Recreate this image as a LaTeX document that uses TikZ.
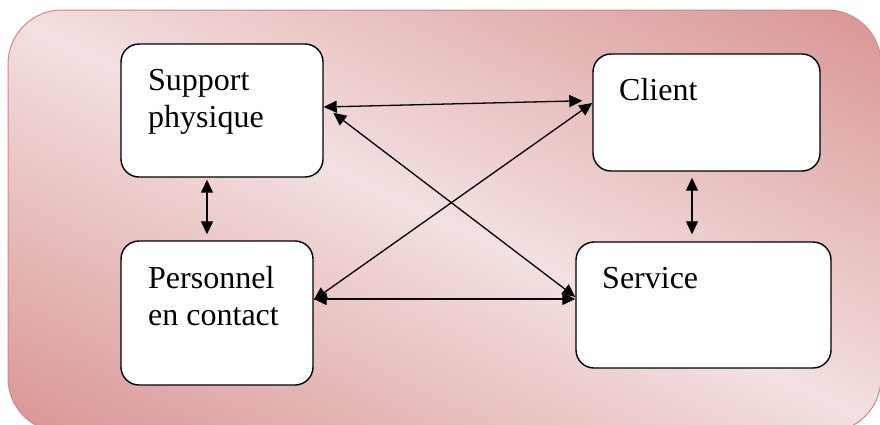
\documentclass[tikz,border=0pt]{standalone}
\usepackage{fontspec}
\setmainfont{Liberation Serif}
\newfontfamily\boxfont{Liberation Serif}
\usetikzlibrary{arrows.meta,calc}

\definecolor{panelDark}{HTML}{D89191}
\definecolor{panelLight}{HTML}{F3E0E0}
\definecolor{panelEdge}{HTML}{D08686}

\tikzset{
  block/.style={draw=black, line width=1.4pt, fill=white, rounded corners=18pt,
                inner sep=0pt},
  boxtext/.style={anchor=base west, inner sep=0pt,
                  font=\boxfont\fontsize{32}{37.5}\selectfont},
  link/.style={line width=1.3pt, {Triangle[length=13pt,width=12pt]}-{Triangle[length=13pt,width=12pt]}}
}

\newcommand{\twolines}[2]{\begin{tabular}[t]{@{}l@{}}#1\\#2\end{tabular}}

\begin{document}
\begin{tikzpicture}[x=1pt, y=-1pt]
  \useasboundingbox (0,0) rectangle (880,424);
  \clip (0,0) rectangle (880,424);

  % shaded rounded panel: light band along the main diagonal
  \begin{scope}
    \clip[rounded corners=54pt] (8,10) rectangle (881,432);
    \begin{scope}[transform canvas={rotate around={-25:(444,221)}}]
      \shade[top color=panelDark, bottom color=panelDark, middle color=panelLight]
        (-200,-170) rectangle (1100,612);
    \end{scope}
  \end{scope}
  \draw[panelEdge, line width=1pt, rounded corners=54pt] (8,10) rectangle (881,432);

  % the four boxes
  \node[block, minimum width=202pt, minimum height=133pt] (sp) at (222,110.5) {};
  \node[block, minimum width=227pt, minimum height=117pt] (cl) at (706.5,112.5) {};
  \node[block, minimum width=192pt, minimum height=144pt] (pc) at (217,313) {};
  \node[block, minimum width=255pt, minimum height=126pt] (sv) at (703.5,305) {};

  % their texts
  \node[boxtext] (spt) at (148,90)  {\twolines{Support}{physique}};
  \node[boxtext] (clt) at (619,100) {Client};
  \node[boxtext] (pct) at (148,288) {\twolines{Personnel}{en contact}};
  \node[boxtext] (svt) at (602,288) {Service};

  % two-way links
  \draw[link, shorten <=2pt, shorten >=6pt]
    ([xshift=-15pt]sp.south) -- ([xshift=-10pt]pc.north);
  \draw[link, shorten <=6pt, shorten >=7pt]
    ([xshift=-14.5pt]cl.south) -- ([xshift=-11.5pt]sv.north);
  \draw[link, shorten >=10pt]
    ([yshift=3.5pt]sp.east) -- ([yshift=12pt]cl.west);
  \draw[link, shorten <=12pt]
    ([yshift=5pt]sp.east) -- ([yshift=8pt]sv.west);
  \draw[link]
    ([yshift=13pt]pc.east) -- ([yshift=9.5pt]cl.west);
  \draw[link]
    ([yshift=14pt]pc.east) -- ([yshift=6pt]sv.west);
\end{tikzpicture}
\end{document}
